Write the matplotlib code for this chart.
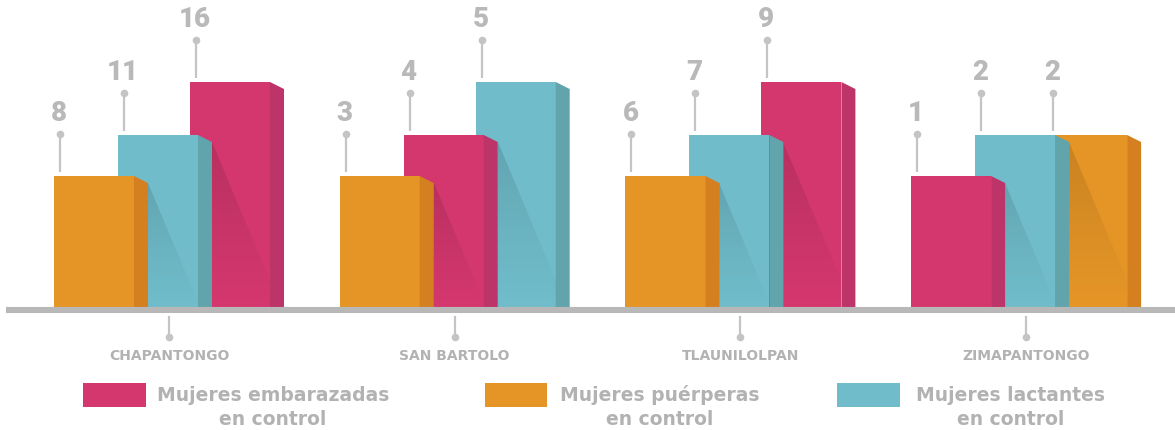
import matplotlib
matplotlib.use("Agg")
import matplotlib.pyplot as plt
import numpy as np
from matplotlib.patches import Polygon, Rectangle

# ---------------- data ----------------
categories = ["CHAPANTONGO", "SAN BARTOLO", "TLAUNILOLPAN", "ZIMAPANTONGO"]
series_labels = ["Mujeres embarazadas\nen control",
                 "Mujeres puérperas\nen control",
                 "Mujeres lactantes\nen control"]
embarazadas = [16, 4, 9, 1]
puerperas = [8, 3, 6, 2]
lactantes = [11, 5, 7, 2]

# ---------------- style ----------------
front_colors = ["#D3376E", "#E59526", "#70BCCA"]
side_colors = ["#BD3468", "#D47F20", "#61A4AB"]
tie_priority = [0, 2, 1]          # order used when two values are equal
level_heights = [131, 172, 225]   # infographic bar heights per rank level
GRAY_TXT = "#b2b2b2"
GRAY_NUM = "#b9b9b9"
GRAY_LINE = "#b8b8b8"
GRAY_TICK = "#c4c4c4"

group_left0 = 54
group_step = 285.7
bar_offsets = [0, 64, 136]
bar_w = 80
depth = 14
slant = 7
shadow_slope = 0.42

fig = plt.figure(figsize=(11.75, 4.30), dpi=100)
ax = fig.add_axes([0, 0, 1, 1])
ax.set_xlim(0, 1175)
ax.set_ylim(-123, 307)
ax.axis("off")

series = [embarazadas, puerperas, lactantes]


def gradient_image(alpha_top):
    a = np.linspace(alpha_top, 0.0, 256) ** 1.2
    img = np.zeros((256, 2, 4))
    img[..., 3] = a[:, None]
    return img


for g, cat in enumerate(categories):
    vals = [s[g] for s in series]
    order = sorted(range(3), key=lambda s: (vals[s], tie_priority[s]))
    uniq = sorted(set(vals))
    gl = group_left0 + g * group_step
    geo = []
    for k, s in enumerate(order):
        level = uniq.index(vals[s])
        h = level_heights[level]
        left = gl + bar_offsets[k]
        z = 10 - 2 * k
        ax.bar(left, h, width=bar_w, align="edge", color=front_colors[s],
               linewidth=0, zorder=z)
        xr = left + bar_w
        ax.add_patch(Polygon([(xr, h), (xr + depth, h - slant),
                              (xr + depth, 0), (xr, 0)], closed=True,
                             facecolor=side_colors[s], linewidth=0, zorder=z + 0.1))
        geo.append((left, h, z))
        # value label with leader line
        lx = left + 6
        ax.plot([lx, lx], [h + 4, h + 42], color=GRAY_TICK, lw=1.6,
                solid_capstyle="butt", zorder=20)
        ax.plot([lx], [h + 42], marker="o", ms=5.5, color=GRAY_TICK,
                mec="none", zorder=20)
        ax.text(lx - 1, h + 55, str(vals[s]), ha="center", va="baseline",
                fontsize=20, fontweight="heavy", color=GRAY_NUM,
                family="Roboto", zorder=20)
    # shadows cast onto the bar behind
    for k in range(2):
        left, h, z = geo[k]
        nleft, nh, nz = geo[k + 1]
        x0 = left + bar_w + depth
        ytop = h - slant
        tri = Polygon([(x0, ytop), (x0, 0), (x0 + shadow_slope * ytop, 0)],
                      closed=True, transform=ax.transData)
        im = ax.imshow(gradient_image(0.18), extent=[nleft, nleft + bar_w, 0, ytop],
                       origin="upper", interpolation="bilinear", aspect="auto",
                       zorder=z - 1)
        im.set_clip_path(tri)
    # category tick + label
    cx = gl + (bar_offsets[2] + bar_w + depth) / 2
    ax.plot([cx, cx], [-10, -30], color=GRAY_TICK, lw=1.6, zorder=20)
    ax.plot([cx], [-30], marker="o", ms=5.5, color=GRAY_TICK, mec="none", zorder=20)
    ax.text(cx, -53, cat, ha="center", va="baseline", fontsize=10,
            fontweight="bold", color=GRAY_TXT, family="DejaVu Sans")

# baseline
ax.plot([6, 1175], [-3, -3], color=GRAY_LINE, lw=4.4, solid_capstyle="butt", zorder=30)

# legend
legend_rects = [(83, 146), (485, 547), (837, 900)]
legend_centers = [273, 660, 1011]
for i, lab in enumerate(series_labels):
    x0, x1 = legend_rects[i]
    ax.add_patch(Rectangle((x0, -100), x1 - x0, 24, facecolor=front_colors[i],
                           linewidth=0))
    l1, l2 = lab.split("\n")
    ax.text(legend_centers[i], -94, l1, ha="center", va="baseline", fontsize=13.5,
            fontweight="bold", color=GRAY_TXT, family="DejaVu Sans")
    ax.text(legend_centers[i], -118, l2, ha="center", va="baseline", fontsize=13.5,
            fontweight="bold", color=GRAY_TXT, family="DejaVu Sans")

fig.savefig("out.png", dpi=100)
